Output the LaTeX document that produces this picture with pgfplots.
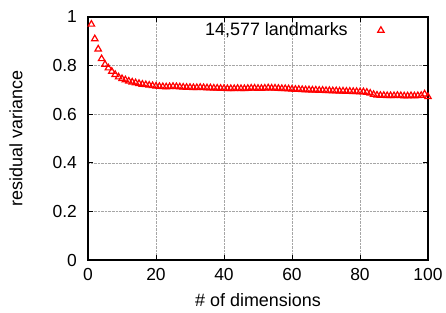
\documentclass[border=0pt]{standalone}
\usepackage{pgfplots}
\pgfplotsset{compat=1.18}
\usepackage{fontspec}
\setmainfont{Liberation Sans}
\begin{document}
\fontsize{18}{21}\selectfont
\begin{tikzpicture}
\path[use as bounding box] (-88bp,-53bp) rectangle (358bp,260bp);
\begin{axis}[
  at={(0,0)}, anchor=origin,
  scale only axis,
  width=340bp, height=243bp,
  xmin=0, xmax=100, ymin=0, ymax=1,
  xtick={0,20,...,100}, ytick={0,0.2,...,1},
  yticklabels={0,0.2,0.4,0.6,0.8,1},
  /pgf/number format/assume math mode=true,
  ticklabel style={font=\fontsize{17.5}{21}\selectfont},
  yticklabel style={xshift=-5bp},
  xticklabel style={yshift=-2bp},
  tick align=inside,
  tick style={black, line width=0.8pt},
  major tick length=5bp,
  axis line style={black, line width=1.1pt},
  grid=major,
  grid style={gray!70, densely dotted, line width=0.5pt},
  xlabel={\# of dimensions},
  ylabel={residual variance},
  label style={font=\fontsize{18}{21}\selectfont},
  xlabel style={at={(axis description cs:0.5,-0.167)}, anchor=center},
  ylabel style={at={(axis description cs:-0.212,0.5)}, anchor=center},
  legend style={draw=none, fill=none, at={(axis description cs:0.89,0.99)}, anchor=north east, font=\fontsize{18}{21}\selectfont, inner sep=1pt},
  legend plot pos=right,
  legend cell align=right,
]
\addplot[only marks, mark=triangle, mark size=3.7bp, red, mark options={line width=1.2pt},
  legend image code/.code={\path[draw=none] (0cm,0cm) -- (1.4cm,0cm); \draw[##1] plot coordinates {(1.1cm,0cm)};}] coordinates {
(1,0.970)(2,0.910)(3,0.868)(4,0.828)(5,0.805)(6,0.790)(7,0.776)(8,0.763)(9,0.753)(10,0.746)
(11,0.741)(12,0.736)(13,0.732)(14,0.729)(15,0.726)(16,0.723)(17,0.721)(18,0.719)(19,0.717)(20,0.715)
(21,0.714)(22,0.713)(23,0.712)(24,0.713)(25,0.714)(26,0.713)(27,0.712)(28,0.711)(29,0.710)(30,0.710)
(31,0.709)(32,0.709)(33,0.710)(34,0.709)(35,0.708)(36,0.708)(37,0.707)(38,0.707)(39,0.706)(40,0.706)
(41,0.705)(42,0.705)(43,0.705)(44,0.706)(45,0.705)(46,0.705)(47,0.706)(48,0.707)(49,0.707)(50,0.706)
(51,0.706)(52,0.707)(53,0.708)(54,0.707)(55,0.707)(56,0.706)(57,0.705)(58,0.705)(59,0.704)(60,0.703)
(61,0.702)(62,0.702)(63,0.701)(64,0.700)(65,0.700)(66,0.699)(67,0.699)(68,0.698)(69,0.698)(70,0.697)
(71,0.697)(72,0.696)(73,0.696)(74,0.695)(75,0.695)(76,0.694)(77,0.694)(78,0.693)(79,0.693)(80,0.692)
(81,0.692)(82,0.690)(83,0.686)(84,0.681)(85,0.678)(86,0.677)(87,0.677)(88,0.676)(89,0.676)(90,0.676)
(91,0.677)(92,0.676)(93,0.675)(94,0.675)(95,0.676)(96,0.675)(97,0.676)(98,0.677)(99,0.683)(100,0.672)
};
\addlegendentry{14,577 landmarks}
\end{axis}
\end{tikzpicture}
\end{document}
